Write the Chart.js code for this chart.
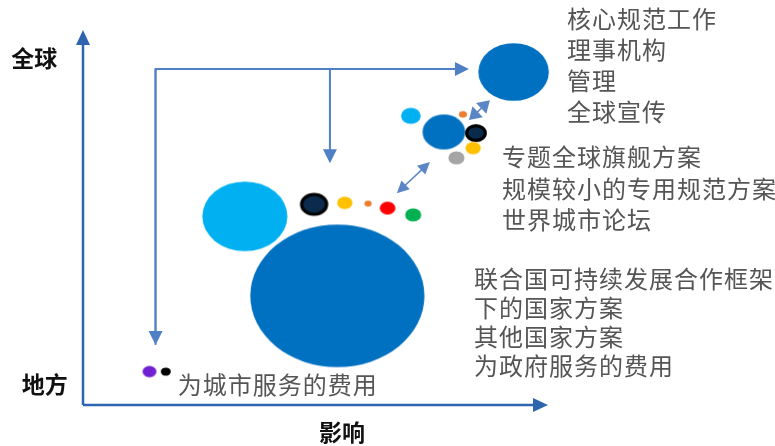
<!DOCTYPE html>
<html>
<head>
<meta charset="utf-8">
<script src="https://cdn.jsdelivr.net/npm/chart.js@4.4.1/dist/chart.umd.min.js"></script>
<style>
  body { margin: 0; background: #fff; }
</style>
</head>
<body>
<canvas id="bubbles" width="775" height="446"></canvas>
<script>
// bubbles on impact (x) / scope (y), both 0..100
const bubbleX = [92.6, 34.8, 54.7, 49.7, 56.3, 61.3, 65.5, 71.0, 70.5, 77.6, 81.7, 84.5, 83.9, 80.3, 14.3, 17.8, 101.0];
const bubbleY = [88.8, 50.3, 29.1, 53.5, 53.9, 53.7, 52.5, 50.7, 77.1, 72.8, 77.5, 72.5, 68.5, 65.9, 8.9, 8.9, 86.9];
const bubbleR = [31.9, 38.5, 78.8, 12.8, 6.9, 3.3, 7.1, 7.3, 8.9, 19.3, 3.6, 9.9, 6.9, 7.3, 6.3, 4.5, 1.0];

// labels
const globalNotes = ['核心规范工作', '理事机构', '管理', '全球宣传'];
const flagshipNotes = ['专题全球旗舰方案', '规模较小的专用规范方案', '世界城市论坛'];
const countryNotes = ['联合国可持续发展合作框架', '下的国家方案', '其他国家方案', '为政府服务的费用'];
const cityNotes = ['为城市服务的费用'];
const yHigh = '全球';
const yLow = '地方';
const xTitle = '影响';

// styles
const bubbleColors = ['#0070C0', '#00B0F0', '#0070C0', '#0B2B4C', '#FFC000', '#ED7D31', '#FF0000', '#00B050',
  '#00B0F0', '#0070C0', '#ED7D31', '#0B2B4C', '#FFC000', '#A5A5A5', '#7020D0', '#000000', '#FF0000'];
const ringed = [3, 11];
const stretch = 1.105; // bubbles are drawn slightly wide

// ellipse images used as point style
const cache = {};
function ellipseImage(i) {
  if (cache[i]) return cache[i];
  const r = bubbleR[i];
  const rx = r * stretch, ry = r / stretch;
  const c = document.createElement('canvas');
  c.width = Math.ceil(rx * 2) + 2;
  c.height = Math.ceil(ry * 2) + 2;
  const g = c.getContext('2d');
  g.beginPath();
  if (ringed.includes(i)) {
    g.ellipse(c.width / 2, c.height / 2, rx - 1.6, ry - 1.6, 0, 0, Math.PI * 2);
    g.fillStyle = bubbleColors[i];
    g.fill();
    g.lineWidth = 3.2;
    g.strokeStyle = '#000';
    g.stroke();
  } else {
    g.ellipse(c.width / 2, c.height / 2, rx, ry, 0, 0, Math.PI * 2);
    g.fillStyle = bubbleColors[i];
    g.fill();
  }
  cache[i] = c;
  return c;
}

function arrow(ctx, x1, y1, x2, y2, len, half, color, width, both) {
  const a = Math.atan2(y2 - y1, x2 - x1);
  const cx = Math.cos(a), sy = Math.sin(a);
  const sx1 = both ? x1 + cx * len * 0.8 : x1;
  const sy1 = both ? y1 + sy * len * 0.8 : y1;
  ctx.beginPath();
  ctx.moveTo(sx1, sy1);
  ctx.lineTo(x2 - cx * len * 0.8, y2 - sy * len * 0.8);
  ctx.strokeStyle = color;
  ctx.lineWidth = width;
  ctx.stroke();
  head(ctx, x2, y2, a, len, half, color);
  if (both) head(ctx, x1, y1, a + Math.PI, len, half, color);
}
function head(ctx, x, y, a, len, half, color) {
  ctx.save();
  ctx.translate(x, y);
  ctx.rotate(a);
  ctx.beginPath();
  ctx.moveTo(0, 0);
  ctx.lineTo(-len, -half);
  ctx.lineTo(-len, half);
  ctx.closePath();
  ctx.fillStyle = color;
  ctx.fill();
  ctx.restore();
}

const frame = {
  id: 'frame',
  beforeDatasetsDraw(chart) {
    const ctx = chart.ctx;
    const X = v => chart.scales.x.getPixelForValue(v);
    const Y = v => chart.scales.y.getPixelForValue(v);
    ctx.save();
    // axes
    arrow(ctx, X(0), Y(0), X(0), Y(100), 15, 7, '#2F65AE', 2.5, false);
    arrow(ctx, X(0), Y(0), X(100), Y(0), 15, 7, '#2F65AE', 2.5, false);
    // flow arrows
    ctx.beginPath();
    ctx.moveTo(X(15.6), Y(16));
    ctx.lineTo(X(15.6), Y(89.6));
    ctx.lineTo(X(80), Y(89.6));
    ctx.strokeStyle = '#6F9AD4';
    ctx.lineWidth = 2;
    ctx.stroke();
    arrow(ctx, X(15.6), Y(89.6), X(15.6), Y(16), 14, 7, '#4F80C6', 2, false);
    arrow(ctx, X(15.6), Y(89.6), X(83.0), Y(89.6), 14, 7, '#4F80C6', 2, false);
    arrow(ctx, X(53.1), Y(89.6), X(53.1), Y(64.5), 14, 7, '#4F80C6', 2, false);
    // links between groups
    arrow(ctx, X(67.5), Y(56.5), X(74.6), Y(64.8), 12, 6, '#5A86C6', 1.5, true);
    arrow(ctx, X(83.0), Y(76.0), X(87.5), Y(81.3), 12, 7.5, '#5A86C6', 1.5, true);
    ctx.restore();
  },
  afterDatasetsDraw(chart) {
    const ctx = chart.ctx;
    const X = v => chart.scales.x.getPixelForValue(v);
    const Y = v => chart.scales.y.getPixelForValue(v);
    const font = '"Noto Sans CJK SC", sans-serif';
    ctx.save();
    ctx.textBaseline = 'middle';
    ctx.textAlign = 'left';
    ctx.fillStyle = '#555';
    ctx.font = '24px ' + font;
    ctx.letterSpacing = '1px';
    const block = (lines, x, y, step) => lines.forEach((t, k) => ctx.fillText(t, X(x), Y(y) + k * step));
    block(globalNotes, 104.1, 102.9, 31);
    block(flagshipNotes, 90.1, 66.1, 31.5);
    block(countryNotes, 84.1, 33.6, 29);
    block(cityNotes, 20.4, 5.3, 0);
    ctx.letterSpacing = '0px';
    ctx.fillStyle = '#111';
    ctx.font = 'bold 23px ' + font;
    ctx.textAlign = 'center';
    ctx.fillText(yHigh, X(-10.5), Y(92.5));
    ctx.fillText(yLow, X(-8.2), Y(5.6));
    ctx.fillText(xTitle, X(55.7), Y(-7.2));
    ctx.restore();
  }
};

new Chart(document.getElementById('bubbles'), {
  type: 'bubble',
  data: {
    datasets: [{
      data: bubbleX.map((x, i) => ({ x: x, y: bubbleY[i], r: bubbleR[i] })),
      pointStyle: c => ellipseImage(c.dataIndex),
      backgroundColor: bubbleColors,
      borderWidth: 0,
      clip: false
    }]
  },
  options: {
    responsive: false,
    animation: false,
    events: [],
    layout: { autoPadding: false, padding: { left: 83, right: 227, top: 30, bottom: 41 } },
    plugins: { legend: { display: false }, tooltip: { enabled: false } },
    scales: {
      x: { display: false, min: 0, max: 100 },
      y: { display: false, min: 0, max: 100 }
    }
  },
  plugins: [frame]
});
</script>
</body>
</html>
